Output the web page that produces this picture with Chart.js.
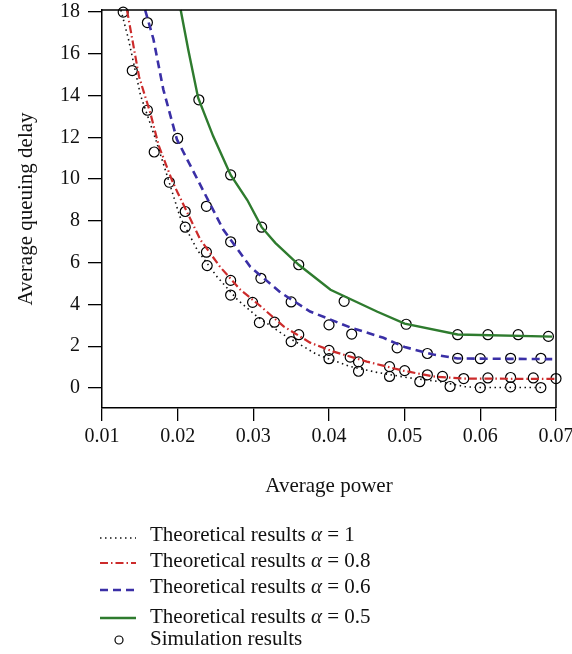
<!DOCTYPE html>
<html>
<head>
<meta charset="utf-8">
<script src="https://cdn.jsdelivr.net/npm/chart.js@4"></script>
<style>
html,body{margin:0;padding:0;background:#fff;}
canvas{display:block;}
</style>
</head>
<body>
<canvas id="c" width="572" height="654"></canvas>
<script>
// ---- Data ----
const X_TICKS = [0.01, 0.02, 0.03, 0.04, 0.05, 0.06, 0.07];
const Y_TICKS = [0, 2, 4, 6, 8, 10, 12, 14, 16, 18];

const alpha1X = [0.0125, 0.0135, 0.0151, 0.0171, 0.0184, 0.0203, 0.0226, 0.0252, 0.0279, 0.0305, 0.034, 0.0384, 0.0428, 0.0464, 0.0503, 0.0547, 0.058, 0.060, 0.068];
const alpha1Y = [18.1, 16.7, 14.0, 11.9, 10.4, 8.2, 6.6, 5.33, 4.23, 3.42, 2.55, 1.6, 1.03, 0.74, 0.5, 0.3, 0.06, 0.02, 0.02];

const alpha08X = [0.0133, 0.0149, 0.0164, 0.0175, 0.0193, 0.0200, 0.023, 0.0256, 0.0283, 0.031, 0.034, 0.0375, 0.0406, 0.045, 0.0498, 0.0538, 0.0578, 0.070];
const alpha08Y = [18.1, 14.9, 13.15, 11.6, 9.9, 9.35, 7.1, 5.8, 4.7, 3.9, 2.95, 2.17, 1.74, 1.26, 0.83, 0.55, 0.45, 0.43];

const alpha06X = [0.0157, 0.0168, 0.0181, 0.0199, 0.0226, 0.026, 0.0296, 0.0336, 0.0375, 0.0428, 0.0472, 0.0500, 0.0538, 0.057, 0.0695];
const alpha06Y = [18.1, 16.7, 14.3, 11.9, 10.0, 7.6, 5.8, 4.57, 3.66, 2.9, 2.4, 1.96, 1.6, 1.41, 1.38];

const alpha05X = [0.0204, 0.0214, 0.0227, 0.0247, 0.027, 0.0292, 0.0311, 0.0329, 0.036, 0.0402, 0.0464, 0.050, 0.057, 0.0695];
const alpha05Y = [18.1, 16.2, 13.9, 12.05, 10.2, 9.0, 7.7, 6.95, 5.9, 4.7, 3.65, 3.08, 2.56, 2.46];

const simX = [0.0128, 0.0140, 0.0160, 0.0169, 0.0189, 0.0210, 0.0210, 0.0238, 0.0239, 0.0270, 0.0270, 0.0299, 0.0308, 0.0328, 0.0350, 0.0360, 0.0400, 0.0400, 0.0428, 0.0439, 0.0439, 0.0480, 0.0480, 0.0500, 0.0520, 0.0530, 0.0550, 0.0560, 0.0578, 0.0600, 0.0610, 0.0640, 0.0640, 0.0670, 0.0680, 0.0700,
  0.0160, 0.0200, 0.0238, 0.0270, 0.0310, 0.0350, 0.0400, 0.0430, 0.0490, 0.0530, 0.0570, 0.0600, 0.0640, 0.0680,
  0.0228, 0.0270, 0.0311, 0.0360, 0.0420, 0.0502, 0.0570, 0.0610, 0.0650, 0.0690];
const simY = [18.0, 15.2, 13.3, 11.3, 9.85, 8.45, 7.7, 6.5, 5.86, 5.15, 4.45, 4.1, 3.13, 3.15, 2.22, 2.55, 1.8, 1.4, 1.48, 1.25, 0.8, 1.02, 0.55, 0.83, 0.3, 0.63, 0.55, 0.07, 0.45, 0.02, 0.48, 0.5, 0.05, 0.48, 0.02, 0.45,
  17.5, 11.95, 8.7, 7.0, 5.25, 4.12, 3.02, 2.58, 1.92, 1.65, 1.42, 1.40, 1.42, 1.42,
  13.8, 10.2, 7.7, 5.9, 4.15, 3.05, 2.55, 2.55, 2.55, 2.47];

const seriesLabels = ['Theoretical results α = 1', 'Theoretical results α = 0.8', 'Theoretical results α = 0.6', 'Theoretical results α = 0.5', 'Simulation results'];

// ---- Build chart ----
const pts = (xs, ys) => xs.map((x, i) => ({x: x, y: ys[i]}));
const FONT = '"Liberation Serif", "DejaVu Serif", serif';

function lineSet(label, xs, ys, color, width, dash) {
  return {label, data: pts(xs, ys), showLine: true, borderColor: color, backgroundColor: color,
    borderWidth: width, borderDash: dash, pointRadius: 0, pointHoverRadius: 0, tension: 0, fill: false, clip: false};
}

const datasets = [
  lineSet(seriesLabels[0], alpha1X, alpha1Y, '#111111', 1.6, [1.5, 3.5]),
  lineSet(seriesLabels[1], alpha08X, alpha08Y, '#cc2b2b', 2.2, [8, 3, 1.5, 3]),
  lineSet(seriesLabels[2], alpha06X, alpha06Y, '#3a2fa6', 2.6, [8, 5]),
  lineSet(seriesLabels[3], alpha05X, alpha05Y, '#2e7b2e', 2.4, []),
  {label: seriesLabels[4], data: pts(simX, simY), showLine: false, pointStyle: 'circle', pointRadius: 5,
   pointBorderWidth: 1.2, borderColor: '#000', backgroundColor: 'rgba(0,0,0,0)', clip: false}
];

const framePlugin = {
  id: 'frame',
  afterDatasetsDraw(chart) {
    const {ctx, chartArea: a} = chart;
    ctx.save();
    ctx.strokeStyle = '#000';
    ctx.lineWidth = 1.5;
    ctx.beginPath();
    ctx.moveTo(a.left, a.top);
    ctx.lineTo(a.right, a.top);
    ctx.lineTo(a.right, a.bottom);
    ctx.stroke();
    ctx.restore();
  }
};

const LEGEND_FONT = 21;
const legendPlugin = {
  id: 'customLegend',
  afterDraw(chart) {
    const ctx = chart.ctx;
    const rowsText = [541, 567, 593, 623, 645];
    const rowsLine = [538, 563, 590, 618, 640];
    ctx.save();
    chart.data.datasets.forEach((ds, i) => {
      const ly = rowsLine[i];
      if (ds.showLine) {
        ctx.strokeStyle = ds.borderColor;
        ctx.lineWidth = ds.borderWidth;
        ctx.setLineDash(ds.borderDash || []);
        ctx.beginPath();
        ctx.moveTo(100, ly);
        ctx.lineTo(136, ly);
        ctx.stroke();
        ctx.setLineDash([]);
      } else {
        ctx.strokeStyle = '#000';
        ctx.lineWidth = 1.2;
        ctx.beginPath();
        ctx.arc(119, ly, 4, 0, Math.PI * 2);
        ctx.stroke();
      }
      ctx.fillStyle = '#111';
      ctx.textBaseline = 'alphabetic';
      ctx.textAlign = 'left';
      const label = ds.label;
      const k = label.indexOf('α');
      let x = 150;
      const ty = rowsText[i];
      const f = LEGEND_FONT + 'px ' + FONT;
      if (k >= 0) {
        const pre = label.slice(0, k), post = label.slice(k + 1);
        ctx.font = f;
        ctx.fillText(pre, x, ty); x += ctx.measureText(pre).width;
        ctx.font = 'italic ' + f;
        ctx.fillText('α', x, ty); x += ctx.measureText('α').width;
        ctx.font = f;
        ctx.fillText(post, x, ty);
      } else {
        ctx.font = f;
        ctx.fillText(label, x, ty);
      }
    });
    ctx.restore();
  }
};

new Chart(document.getElementById('c'), {
  type: 'scatter',
  data: {datasets},
  options: {
    responsive: false,
    devicePixelRatio: 1,
    animation: false,
    events: [],
    layout: {padding: {left: 0, right: 16, top: 10, bottom: 155}},
    plugins: {legend: {display: false}, tooltip: {enabled: false}},
    scales: {
      x: {
        type: 'linear', min: 0.01, max: 0.07,
        afterBuildTicks: s => { s.ticks = X_TICKS.map(v => ({value: v})); },
        afterFit: s => { s.height = 91; s.paddingLeft = 0; s.paddingRight = 0; },
        ticks: {color: '#111', font: {family: FONT, size: 20}, padding: 4, maxRotation: 0,
                callback: v => v.toFixed(2)},
        grid: {drawOnChartArea: false, drawTicks: true, tickLength: 13, color: '#000', lineWidth: 1.3},
        border: {display: true, color: '#000', width: 1.5},
        title: {display: true, text: 'Average power', color: '#111', font: {family: FONT, size: 21}, padding: {top: 0, bottom: 0}}
      },
      y: {
        type: 'linear', min: -0.96, max: 18.1,
        afterBuildTicks: s => { s.ticks = Y_TICKS.map(v => ({value: v})); },
        afterFit: s => { s.width = 102; s.paddingTop = 0; s.paddingBottom = 0; },
        ticks: {color: '#111', font: {family: FONT, size: 20}, padding: 8, callback: v => String(v)},
        grid: {drawOnChartArea: false, drawTicks: true, tickLength: 14, color: '#000', lineWidth: 1.3},
        border: {display: true, color: '#000', width: 1.5},
        title: {display: true, text: 'Average queuing delay', color: '#111', font: {family: FONT, size: 21}, padding: {top: 14, bottom: 0}}
      }
    }
  },
  plugins: [framePlugin, legendPlugin]
});
</script>
</body>
</html>
